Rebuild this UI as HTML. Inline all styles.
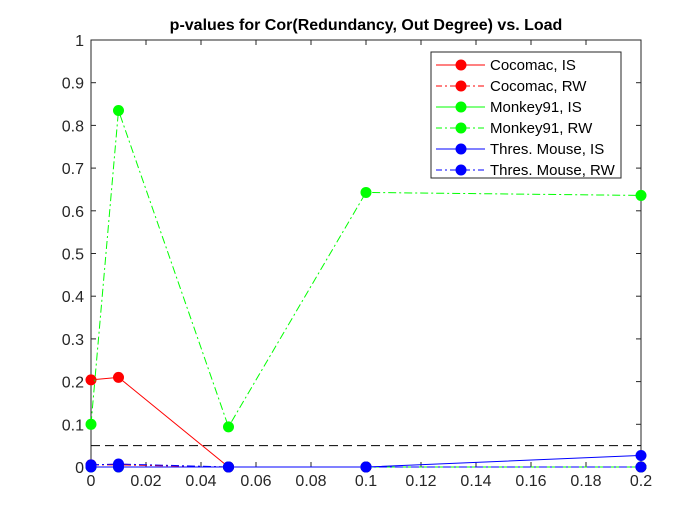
<!DOCTYPE html>
<html><head><meta charset="utf-8"><style>
body{margin:0;background:#fff}
svg{font-family:"Liberation Sans",sans-serif}
</style></head><body>
<svg id="c" width="700" height="525">
<rect width="700" height="525" fill="#fff"/>
</svg>
<script>
const xs=[0,0.01,0.05,0.1,0.2];
const cocoIS=[0.204,0.21,0,0,0];
const cocoRW=[0.005,0.005,0,0,0];
const monkIS=[0,0,0,0,0];
const monkRW=[0.1,0.835,0.094,0.643,0.636];
const mouseIS=[0,0,0,0,0.027];
const mouseRW=[0.005,0.007,0,0,0];
const threshold=0.05;
const xTicks=[0,0.02,0.04,0.06,0.08,0.1,0.12,0.14,0.16,0.18,0.2];
const yTicks=[0,0.1,0.2,0.3,0.4,0.5,0.6,0.7,0.8,0.9,1];
const L=91,R=641,T=40,B=467;
const X=v=>L+(v/0.2)*(R-L), Y=v=>B-v*(B-T);
const svg=document.getElementById('c');const NS='http://www.w3.org/2000/svg';
function mk(t,a,p){const e=document.createElementNS(NS,t);for(const k in a)e.setAttribute(k,a[k]);(p||svg).appendChild(e);return e;}
let e=mk('rect',{x:L,y:T,width:R-L,height:B-T,fill:'#fff',stroke:'#262626','stroke-width':1});


xTicks.forEach(t=>{mk('line',{x1:X(t),x2:X(t),y1:B,y2:B-5,stroke:'#262626'});mk('line',{x1:X(t),x2:X(t),y1:T,y2:T+5,stroke:'#262626'});
const tx=mk('text',{x:X(t),y:B+19,'text-anchor':'middle','font-size':16,fill:'#262626'});tx.textContent=String(t);

});
yTicks.forEach(t=>{mk('line',{x1:L,x2:L+5,y1:Y(t),y2:Y(t),stroke:'#262626'});mk('line',{x1:R,x2:R-5,y1:Y(t),y2:Y(t),stroke:'#262626'});
const tx=mk('text',{x:L-7,y:Y(t)+6,'text-anchor':'end','font-size':16,fill:'#262626'});tx.textContent=String(t);

});
const th=mk('line',{x1:L,x2:R,y1:Y(threshold),y2:Y(threshold),stroke:'#000','stroke-dasharray':'9,5'});


const series=[[cocoIS,'#f00',null,'cocomac-is'],[cocoRW,'#f00','8,3,2,3','cocomac-rw'],[monkIS,'#0f0',null,'monkey91-is'],[monkRW,'#0f0','8,3,2,3','monkey91-rw'],[mouseIS,'#00f',null,'mouse-is'],[mouseRW,'#00f','8,3,2,3','mouse-rw']];
series.forEach(([d,c,da,n])=>{const g=mk('g',{});
const a={points:d.map((v,i)=>X(xs[i])+','+Y(v)).join(' '),fill:'none',stroke:c,'stroke-width':1};if(da)a['stroke-dasharray']=da;mk('polyline',a,g);
d.forEach((v,i)=>{const m=mk('circle',{cx:X(xs[i]),cy:Y(v),r:5.5,fill:c},g);});});
const ti=mk('text',{x:366,y:30,'text-anchor':'middle','font-size':16,'font-weight':'bold',fill:'#000'});ti.textContent='p-values for Cor(Redundancy, Out Degree) vs. Load';


const lg=mk('g',{});
mk('rect',{x:431,y:52,width:190,height:126,fill:'#fff',stroke:'#262626'},lg);
const names=['Cocomac, IS','Cocomac, RW','Monkey91, IS','Monkey91, RW','Thres. Mouse, IS','Thres. Mouse, RW'];
series.forEach(([d,c,da],i)=>{const y=65+i*21;const a={x1:436,x2:485,y1:y,y2:y,stroke:c};if(da)a['stroke-dasharray']='6,3,2,3';mk('line',a,lg);mk('circle',{cx:461,cy:y,r:5.5,fill:c},lg);
const t=mk('text',{x:490,y:y+5,'font-size':15,fill:'#000'},lg);t.textContent=names[i];});
</script>
</body></html>
